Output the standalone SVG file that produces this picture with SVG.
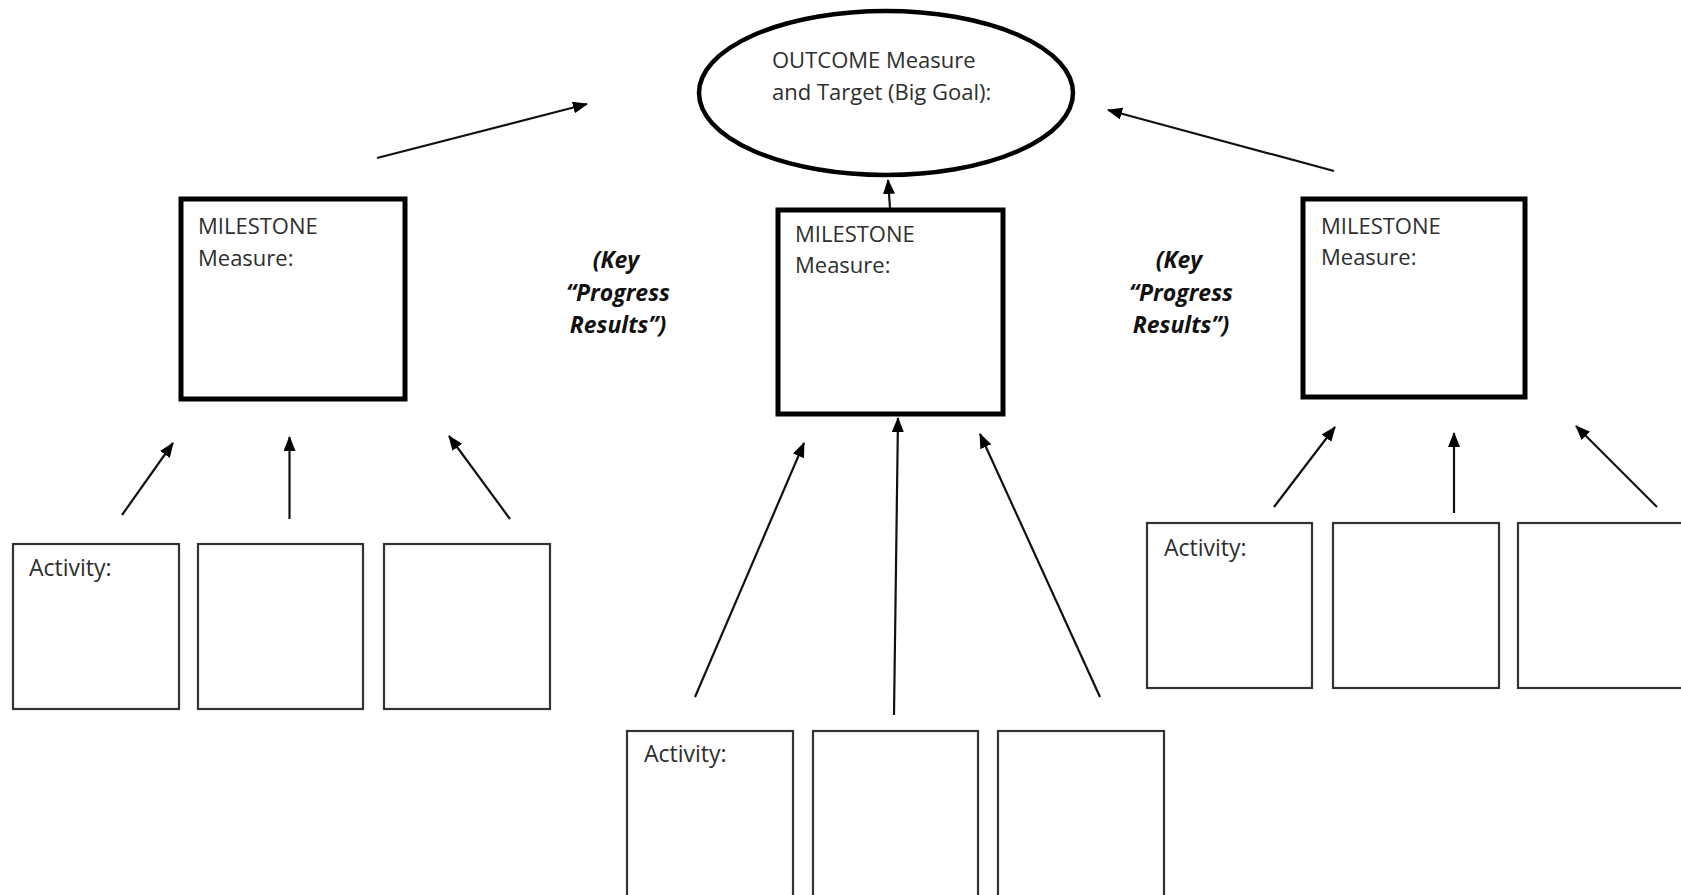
<svg xmlns="http://www.w3.org/2000/svg" width="1681" height="895" viewBox="0 0 1681 895">
<defs>
<marker id="ah" markerUnits="userSpaceOnUse" markerWidth="16" markerHeight="14" refX="14" refY="6" orient="auto">
<path d="M0,0 L15,6 L0,12 Z" fill="#000"/>
</marker>
<style>
.ms{fill:#fff;stroke:#000;stroke-width:5}
.act{fill:#fff;stroke:#333;stroke-width:2.2}
.t{font-family:"Open Sans","Liberation Sans",sans-serif;font-size:22px;fill:#2e2e2e}
.a{font-size:23px}
.k{font-family:"Open Sans","Liberation Sans",sans-serif;font-size:23px;font-weight:bold;font-style:italic;fill:#111;text-anchor:middle}
.c{stroke:#111;stroke-width:2.2;fill:none;marker-end:url(#ah)}
</style>
</defs>
<rect width="1681" height="895" fill="#fff"/>
<g id="connectors">
<line class="c" x1="377" y1="158" x2="587" y2="104"/>
<line class="c" x1="1334" y1="171" x2="1108" y2="110"/>
<line class="c" x1="890" y1="208" x2="888" y2="180"/>
<line class="c" x1="122" y1="515" x2="173" y2="443"/>
<line class="c" x1="289.5" y1="519" x2="289.5" y2="437"/>
<line class="c" x1="510" y1="519" x2="449" y2="436"/>
<line class="c" x1="695" y1="697" x2="804" y2="443"/>
<line class="c" x1="894" y1="715" x2="898" y2="418"/>
<line class="c" x1="1100" y1="697" x2="980" y2="434"/>
<line class="c" x1="1274" y1="507" x2="1335" y2="427"/>
<line class="c" x1="1454" y1="513" x2="1454" y2="433"/>
<line class="c" x1="1657" y1="507" x2="1576" y2="426"/>
</g>
<g id="outcome">
<ellipse cx="886" cy="93" rx="187" ry="82" fill="#fff" stroke="#000" stroke-width="4.5"/>
<text class="t" x="772" y="68">OUTCOME Measure</text>
<text class="t" x="772" y="100">and Target (Big Goal):</text>
</g>
<g id="milestone1">
<rect class="ms" x="181" y="199" width="224" height="200"/>
<text class="t" x="198" y="234">MILESTONE</text>
<text class="t" x="198" y="266">Measure:</text>
</g>
<g id="milestone2">
<rect class="ms" x="778" y="210" width="225" height="204"/>
<text class="t" x="795" y="242">MILESTONE</text>
<text class="t" x="795" y="273">Measure:</text>
</g>
<g id="milestone3">
<rect class="ms" x="1303" y="199" width="222" height="198"/>
<text class="t" x="1321" y="234">MILESTONE</text>
<text class="t" x="1321" y="265">Measure:</text>
</g>
<g id="label1">
<text class="k" x="616" y="268">(Key</text>
<text class="k" x="618" y="301">“Progress</text>
<text class="k" x="618" y="333">Results”)</text>
</g>
<g id="label2">
<text class="k" x="1179" y="268">(Key</text>
<text class="k" x="1181" y="301">“Progress</text>
<text class="k" x="1181" y="333">Results”)</text>
</g>
<g id="activity1a"><rect class="act" x="13" y="544" width="166" height="165"/><text class="t a" x="29" y="576">Activity:</text></g>
<g id="activity1b"><rect class="act" x="198" y="544" width="165" height="165"/></g>
<g id="activity1c"><rect class="act" x="384" y="544" width="166" height="165"/></g>
<g id="activity2a"><rect class="act" x="627" y="731" width="166" height="170"/><text class="t a" x="644" y="762">Activity:</text></g>
<g id="activity2b"><rect class="act" x="813" y="731" width="165" height="170"/></g>
<g id="activity2c"><rect class="act" x="998" y="731" width="166" height="170"/></g>
<g id="activity3a"><rect class="act" x="1147" y="523" width="165" height="165"/><text class="t a" x="1164" y="556">Activity:</text></g>
<g id="activity3b"><rect class="act" x="1333" y="523" width="166" height="165"/></g>
<g id="activity3c"><rect class="act" x="1518" y="523" width="166" height="165"/></g>
</svg>
